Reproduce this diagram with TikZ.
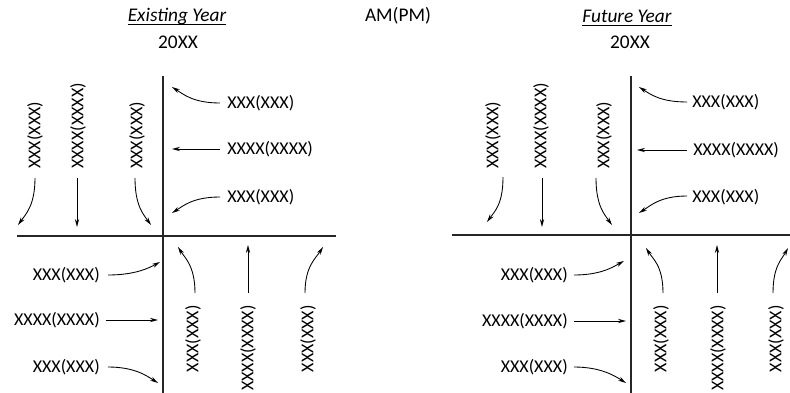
\documentclass[tikz,border=0pt]{standalone}
\usepackage{fontspec}
\setmainfont{Carlito}
\usetikzlibrary{arrows.meta,calc}
\begin{document}
\begin{tikzpicture}[x=0.75pt,y=-0.75pt,
  lbl/.style={inner sep=0pt,font=\fontsize{13.5}{16}\selectfont},
  hdr/.style={inner sep=0pt,font=\fontsize{14.5}{17}\selectfont},
  vlbl/.style={lbl,rotate=90},
  axis/.style={line width=1.1pt,draw=black!85},
  arr/.style={line width=0.65pt,-{Stealth[length=6pt,width=3.2pt]}},
  uline/.style={line width=0.9pt}]
\useasboundingbox (0,0) rectangle (790,393);

% headers
\node[hdr,font=\fontsize{14.5}{17}\selectfont\itshape] (ey) at (177,16) {Existing Year};
\draw[uline] ([yshift=-2.4pt]ey.base west) -- ([yshift=-2.4pt]ey.base east);
\node[hdr] (eyy) at (178,42) {20XX};
\node[hdr] (ampm) at (398,16) {AM(PM)};
\node[hdr,font=\fontsize{14.5}{17}\selectfont\itshape] (fy) at (627,16) {Future Year};
\draw[uline] ([yshift=-2.4pt]fy.base west) -- ([yshift=-2.4pt]fy.base east);
\node[hdr] (fyy) at (630,42) {20XX};

% ===== left diagram =====
\coordinate (Lvt) at (163,76); \coordinate (Lvb) at (163,393);
\coordinate (Lhl) at (17,236); \coordinate (Lhr) at (336,236);
\draw[axis] (Lvt) -- (Lvb);
\draw[axis] (Lhl) -- (Lhr);

% top-left quadrant
\node[vlbl,anchor=west] (LA1) at (35,169) {XXX(XXX)};
\node[vlbl,anchor=west] (LA2) at (78,169) {XXXX(XXXX)};
\node[vlbl,anchor=west] (LA3) at (137,169) {XXX(XXX)};
\coordinate (La1s) at (35,178);  \coordinate (La1e) at (18,225);
\coordinate (La2s) at (77,178);  \coordinate (La2e) at (77,227);
\coordinate (La3s) at (135,178); \coordinate (La3e) at (151,225);
\draw[arr] (La1s) .. controls ($(La1s)+(0,27)$) and ($(La1e)+(8,-11)$) .. (La1e);
\draw[arr] (La2s) -- (La2e);
\draw[arr] (La3s) .. controls ($(La3s)+(0,27)$) and ($(La3e)+(-8,-11)$) .. (La3e);

% top-right quadrant
\node[lbl,anchor=west] (LB1) at (227,103) {XXX(XXX)};
\node[lbl,anchor=west] (LB2) at (227,149) {XXXX(XXXX)};
\node[lbl,anchor=west] (LB3) at (227,197) {XXX(XXX)};
\coordinate (Lb1s) at (220,103); \coordinate (Lb1e) at (172,87);
\coordinate (Lb2s) at (220,149); \coordinate (Lb2e) at (172,149);
\coordinate (Lb3s) at (220,197); \coordinate (Lb3e) at (172,213);
\draw[arr] (Lb1s) .. controls ($(Lb1s)+(-27,0)$) and ($(Lb1e)+(11,7)$) .. (Lb1e);
\draw[arr] (Lb2s) -- (Lb2e);
\draw[arr] (Lb3s) .. controls ($(Lb3s)+(-27,0)$) and ($(Lb3e)+(11,-7)$) .. (Lb3e);

% bottom-left quadrant
\node[lbl,anchor=east] (LC1) at (100,275) {XXX(XXX)};
\node[lbl,anchor=east] (LC2) at (100,320) {XXXX(XXXX)};
\node[lbl,anchor=east] (LC3) at (100,367) {XXX(XXX)};
\coordinate (Lc1s) at (108,275); \coordinate (Lc1e) at (160,262);
\coordinate (Lc2s) at (106,320); \coordinate (Lc2e) at (158,320);
\coordinate (Lc3s) at (108,367); \coordinate (Lc3e) at (158,383);
\draw[arr] (Lc1s) .. controls ($(Lc1s)+(27,0)$) and ($(Lc1e)+(-11,6)$) .. (Lc1e);
\draw[arr] (Lc2s) -- (Lc2e);
\draw[arr] (Lc3s) .. controls ($(Lc3s)+(27,0)$) and ($(Lc3e)+(-11,-7)$) .. (Lc3e);

% bottom-right quadrant
\node[vlbl,anchor=east] (LD1) at (193,305) {XXX(XXX)};
\node[vlbl,anchor=east] (LD2) at (248,305) {XXXX(XXXX)};
\node[vlbl,anchor=east] (LD3) at (308,305) {XXX(XXX)};
\coordinate (Ld1s) at (195,293); \coordinate (Ld1e) at (178,247);
\coordinate (Ld2s) at (248,293); \coordinate (Ld2e) at (248,245);
\coordinate (Ld3s) at (305,293); \coordinate (Ld3e) at (323,247);
\draw[arr] (Ld1s) .. controls ($(Ld1s)+(0,-27)$) and ($(Ld1e)+(7,11)$) .. (Ld1e);
\draw[arr] (Ld2s) -- (Ld2e);
\draw[arr] (Ld3s) .. controls ($(Ld3s)+(0,-27)$) and ($(Ld3e)+(-7,11)$) .. (Ld3e);

% ===== right diagram =====
\coordinate (Rvt) at (631,76); \coordinate (Rvb) at (631,393);
\coordinate (Rhl) at (452,235); \coordinate (Rhr) at (790,235);
\draw[axis] (Rvt) -- (Rvb);
\draw[axis] (Rhl) -- (Rhr);

% top-left quadrant
\node[vlbl,anchor=west] (RA1) at (493,169) {XXX(XXX)};
\node[vlbl,anchor=west] (RA2) at (541,169) {XXXX(XXXX)};
\node[vlbl,anchor=west] (RA3) at (604,169) {XXX(XXX)};
\coordinate (Ra1s) at (503,177); \coordinate (Ra1e) at (487,222);
\coordinate (Ra2s) at (542,178); \coordinate (Ra2e) at (542,227);
\coordinate (Ra3s) at (596,178); \coordinate (Ra3e) at (612,225);
\draw[arr] (Ra1s) .. controls ($(Ra1s)+(0,27)$) and ($(Ra1e)+(8,-11)$) .. (Ra1e);
\draw[arr] (Ra2s) -- (Ra2e);
\draw[arr] (Ra3s) .. controls ($(Ra3s)+(0,27)$) and ($(Ra3e)+(-8,-11)$) .. (Ra3e);

% top-right quadrant
\node[lbl,anchor=west] (RB1) at (692,102) {XXX(XXX)};
\node[lbl,anchor=west] (RB2) at (693,150) {XXXX(XXXX)};
\node[lbl,anchor=west] (RB3) at (692,197) {XXX(XXX)};
\coordinate (Rb1s) at (687,102); \coordinate (Rb1e) at (639,87);
\coordinate (Rb2s) at (687,150); \coordinate (Rb2e) at (637,150);
\coordinate (Rb3s) at (687,196); \coordinate (Rb3e) at (639,213);
\draw[arr] (Rb1s) .. controls ($(Rb1s)+(-27,0)$) and ($(Rb1e)+(11,7)$) .. (Rb1e);
\draw[arr] (Rb2s) -- (Rb2e);
\draw[arr] (Rb3s) .. controls ($(Rb3s)+(-27,0)$) and ($(Rb3e)+(11,-7)$) .. (Rb3e);

% bottom-left quadrant
\node[lbl,anchor=east] (RC1) at (568,275) {XXX(XXX)};
\node[lbl,anchor=east] (RC2) at (568,321) {XXXX(XXXX)};
\node[lbl,anchor=east] (RC3) at (568,367) {XXX(XXX)};
\coordinate (Rc1s) at (574,275); \coordinate (Rc1e) at (624,261);
\coordinate (Rc2s) at (574,321); \coordinate (Rc2e) at (626,321);
\coordinate (Rc3s) at (574,367); \coordinate (Rc3e) at (626,383);
\draw[arr] (Rc1s) .. controls ($(Rc1s)+(27,0)$) and ($(Rc1e)+(-11,6)$) .. (Rc1e);
\draw[arr] (Rc2s) -- (Rc2e);
\draw[arr] (Rc3s) .. controls ($(Rc3s)+(27,0)$) and ($(Rc3e)+(-11,-7)$) .. (Rc3e);

% bottom-right quadrant
\node[vlbl,anchor=east] (RD1) at (661,305) {XXX(XXX)};
\node[vlbl,anchor=east] (RD2) at (718,305) {XXXX(XXXX)};
\node[vlbl,anchor=east] (RD3) at (776,305) {XXX(XXX)};
\coordinate (Rd1s) at (663,293); \coordinate (Rd1e) at (646,248);
\coordinate (Rd2s) at (717,293); \coordinate (Rd2e) at (717,245);
\coordinate (Rd3s) at (773,293); \coordinate (Rd3e) at (788,248);
\draw[arr] (Rd1s) .. controls ($(Rd1s)+(0,-27)$) and ($(Rd1e)+(7,11)$) .. (Rd1e);
\draw[arr] (Rd2s) -- (Rd2e);
\draw[arr] (Rd3s) .. controls ($(Rd3s)+(0,-27)$) and ($(Rd3e)+(-6,11)$) .. (Rd3e);
\end{tikzpicture}
\end{document}
